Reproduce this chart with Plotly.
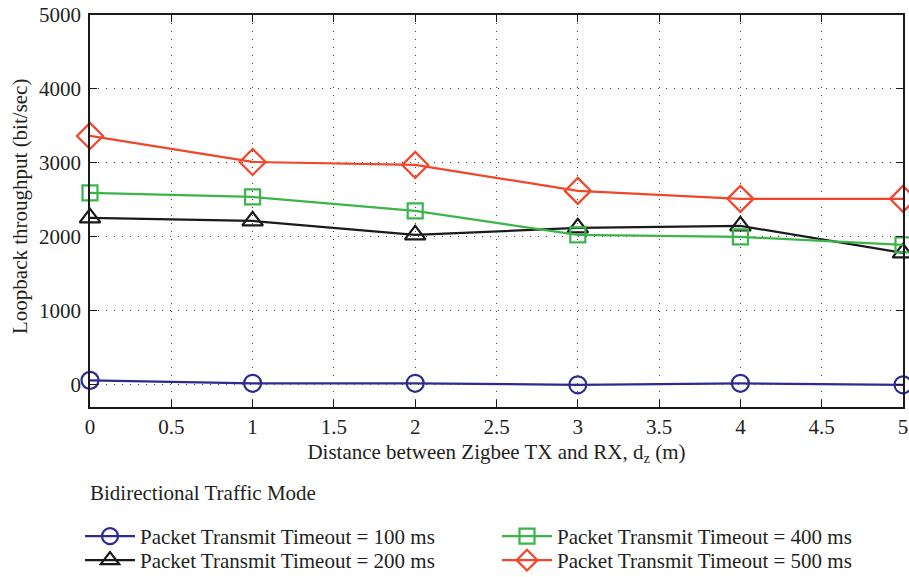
import plotly.graph_objects as go

distance = [0, 1, 2, 3, 4, 5]
t100 = [60, 20, 20, 0, 20, 0]
t200 = [2257, 2216, 2027, 2122, 2149, 1784]
t400 = [2595, 2540, 2351, 2027, 2000, 1892]
t500 = [3365, 3013, 2973, 2622, 2514, 2514]

names = ["Packet Transmit Timeout = 100 ms", "Packet Transmit Timeout = 200 ms",
         "Packet Transmit Timeout = 400 ms", "Packet Transmit Timeout = 500 ms"]
colors = ["#2e2a92", "#1a1a1a", "#3ab54a", "#f2452a"]
symbols = ["circle-open", "triangle-up-open", "square-open", "diamond-open"]
sizes = [17, 18, 15, 20]
legend_ids = ["legend", "legend2", "legend3", "legend4"]
series = [t100, t200, t400, t500]

FONT = "Liberation Serif"
TXT = "#231f20"
FS = 21
fig = go.Figure()
for s, n, c, sym, sz, lg in zip(series, names, colors, symbols, sizes, legend_ids):
    fig.add_trace(go.Scatter(
        x=distance, y=s, name=n, mode="lines+markers",
        line=dict(color=c, width=2.2),
        marker=dict(symbol=sym, size=sz, color=c, line=dict(width=2.2, color=c)),
        legend=lg, cliponaxis=False))

axis_common = dict(showline=True, linecolor="#1a1a1a", linewidth=1.6, mirror="ticks",
                   ticks="inside", ticklen=7, tickcolor="#1a1a1a", tickwidth=1.2,
                   showgrid=True, gridcolor="#444444", griddash="1px,7px", gridwidth=1.2,
                   zeroline=False, automargin=False,
                   tickfont=dict(size=FS, color=TXT, family=FONT))
fig.update_xaxes(range=[0, 5], dtick=0.5, tick0=0,
                 title=dict(text="Distance between Zigbee TX and RX, d<sub>z</sub> (m)",
                            font=dict(size=FS, color=TXT, family=FONT), standoff=6),
                 **axis_common)
fig.update_yaxes(range=[-300, 5000], tickvals=[0, 1000, 2000, 3000, 4000, 5000],
                 ticklabelstandoff=3, **axis_common)

fig.add_annotation(text="Loopback throughput (bit/sec)", xref="paper", yref="paper",
                   x=(20 - 90) / 813, y=(407 - 207) / 392, xanchor="center", yanchor="middle",
                   textangle=-90, showarrow=False,
                   font=dict(size=FS, color=TXT, family=FONT))
fig.add_annotation(text="Bidirectional Traffic Mode", xref="paper", yref="paper",
                   x=(88 - 90) / 813, y=(407 - 493) / 392, xanchor="left", yanchor="middle",
                   showarrow=False, font=dict(size=FS, color=TXT, family=FONT))

legend_common = dict(orientation="v", xref="container", yref="container",
                     xanchor="left", yanchor="top", itemwidth=50, tracegroupgap=0,
                     font=dict(size=FS, color=TXT, family=FONT),
                     bgcolor="rgba(0,0,0,0)", itemsizing="trace")

fig.update_layout(
    width=909, height=577,
    margin=dict(l=90, r=6, t=15, b=170, autoexpand=False),
    paper_bgcolor="white", plot_bgcolor="white",
    font=dict(family=FONT, color=TXT, size=FS),
    showlegend=True,
    legend=dict(x=80 / 909, y=1 - 516 / 577, **legend_common),
    legend2=dict(x=80 / 909, y=1 - 540 / 577, **legend_common),
    legend3=dict(x=497 / 909, y=1 - 516 / 577, **legend_common),
    legend4=dict(x=497 / 909, y=1 - 540 / 577, **legend_common),
)

fig.write_html("out.html", config={"displayModeBar": False},
               post_script="document.body.style.margin='0px';")
